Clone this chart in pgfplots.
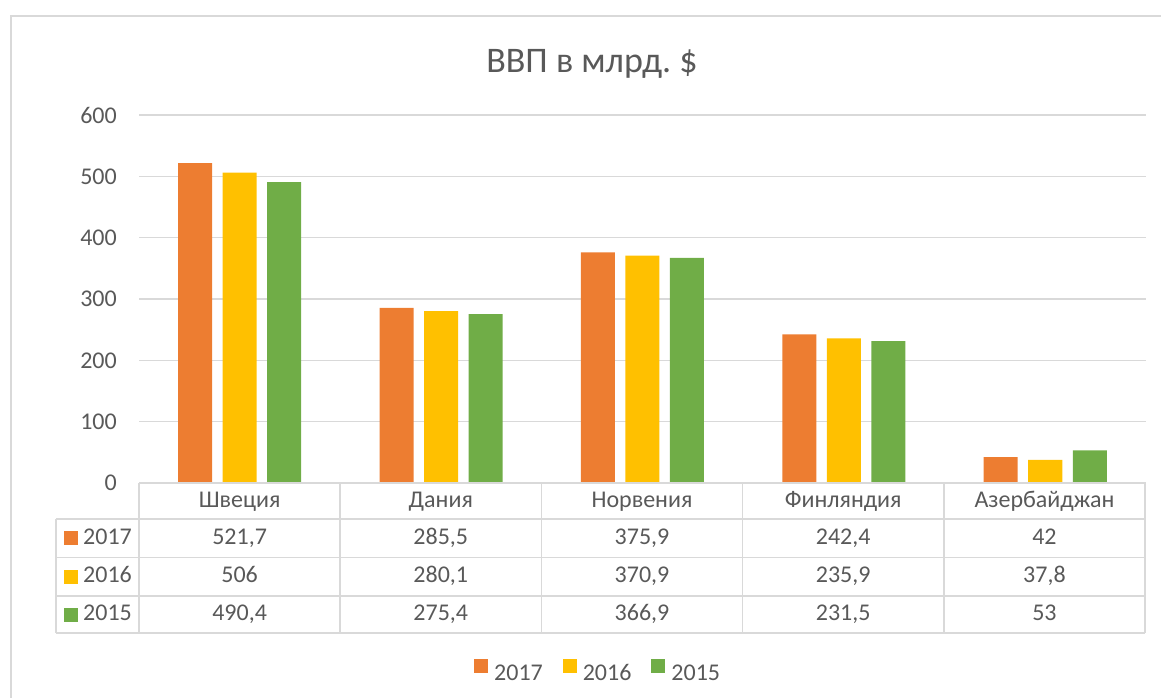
\documentclass[border=0pt]{standalone}
\usepackage{pgfplots}
\pgfplotsset{compat=1.18}
\usepackage{pgfplotstable}
\usepackage{fontspec}
\setmainfont{Carlito}
\definecolor{c17}{HTML}{ED7D31}
\definecolor{c16}{HTML}{FFC000}
\definecolor{c15}{HTML}{70AD47}
\definecolor{txt}{HTML}{595959}
\definecolor{gridc}{HTML}{D9D9D9}

\pgfplotstableread{
x y17 y16 y15
0 521.7 506 490.4
1 285.5 280.1 275.4
2 375.9 370.9 366.9
3 242.4 235.9 231.5
4 42 37.8 53
}\gdp

\begin{document}
\begin{tikzpicture}[font=\fontsize{24}{28}\selectfont, text=txt]
\begin{scope}[x=1pt,y=1pt]
\useasboundingbox (0,0) rectangle (1161,698);
\draw[gridc, line width=1.5pt] (11,-5) -- (11,682) -- (1170,682);
\end{scope}
\begin{axis}[at={(139pt,215pt)}, anchor=south west, scale only axis,
  width=1007pt, height=368pt,
  xmin=-0.5, xmax=4.5, ymin=0, ymax=600,
  ytick={0,100,...,600}, xtick=\empty,
  axis line style={draw=none}, major tick length=0pt,
  ymajorgrids, grid style={gridc, line width=1.5pt},
  ybar=10.5pt, bar width=34pt,
  /pgf/number format/assume math mode=true,
  yticklabel style={font=\fontsize{24}{28}\selectfont, text=txt, inner sep=0pt, xshift=-22pt},
  legend style={at={(0.455,-0.508)}, anchor=center, draw=none, fill=none,
    legend columns=3, font=\fontsize{24}{28}\selectfont, text=txt,
    nodes={inner sep=0pt, text height=16pt, text depth=0pt},
    /tikz/every odd column/.append style={column sep=6pt},
    /tikz/every even column/.append style={column sep=20pt}},
  legend image code/.code={\fill[#1] (0pt,0pt) rectangle (14pt,14pt);},
]
\addplot[fill=c17, draw=none] table[x=x, y=y17] {\gdp};
\addplot[fill=c16, draw=none] table[x=x, y=y16] {\gdp};
\addplot[fill=c15, draw=none] table[x=x, y=y15] {\gdp};
\legend{2017,2016,2015}
\end{axis}
\begin{scope}[x=1pt,y=1pt]
% data table grid
\begin{scope}[gridc, line width=1.5pt]
\draw (139,215) -- (1145,215);
\foreach \yy in {179,140.5,102,65} \draw (56,\yy) -- (1145,\yy);
\draw (56,179) -- (56,65);
\foreach \xx in {139,340.2,541.4,742.6,943.8,1145} \draw (\xx,215) -- (\xx,65);
\end{scope}
% header row
\foreach \xx/\nm in {239.6/Швеция,440.8/Дания,642/Норвения,843.2/Финляндия,1044.4/Азербайджан}
  \node[anchor=base, inner sep=0pt] at (\xx,190) {\nm};
% rows
\fill[c17] (64,153) rectangle (78,167);
\fill[c16] (64,114.25) rectangle (78,128.25);
\fill[c15] (64,76) rectangle (78,90);
\node[anchor=base west, inner sep=0pt] at (83,153) {2017};
\node[anchor=base west, inner sep=0pt] at (83,115) {2016};
\node[anchor=base west, inner sep=0pt] at (83,77) {2015};
\foreach \xx/\a/\b/\c in {239.6/{521,7}/506/{490,4},440.8/{285,5}/{280,1}/{275,4},642/{375,9}/{370,9}/{366,9},843.2/{242,4}/{235,9}/{231,5},1044.4/42/{37,8}/53}{
  \node[anchor=base, inner sep=0pt] at (\xx,153) {\a};
  \node[anchor=base, inner sep=0pt] at (\xx,115) {\b};
  \node[anchor=base, inner sep=0pt] at (\xx,77) {\c};
}
\node[anchor=base, inner sep=0pt, font=\fontsize{36}{42}\selectfont] at (592,625.3) {ВВП в млрд.\ \$};
\end{scope}
\end{tikzpicture}
\end{document}
